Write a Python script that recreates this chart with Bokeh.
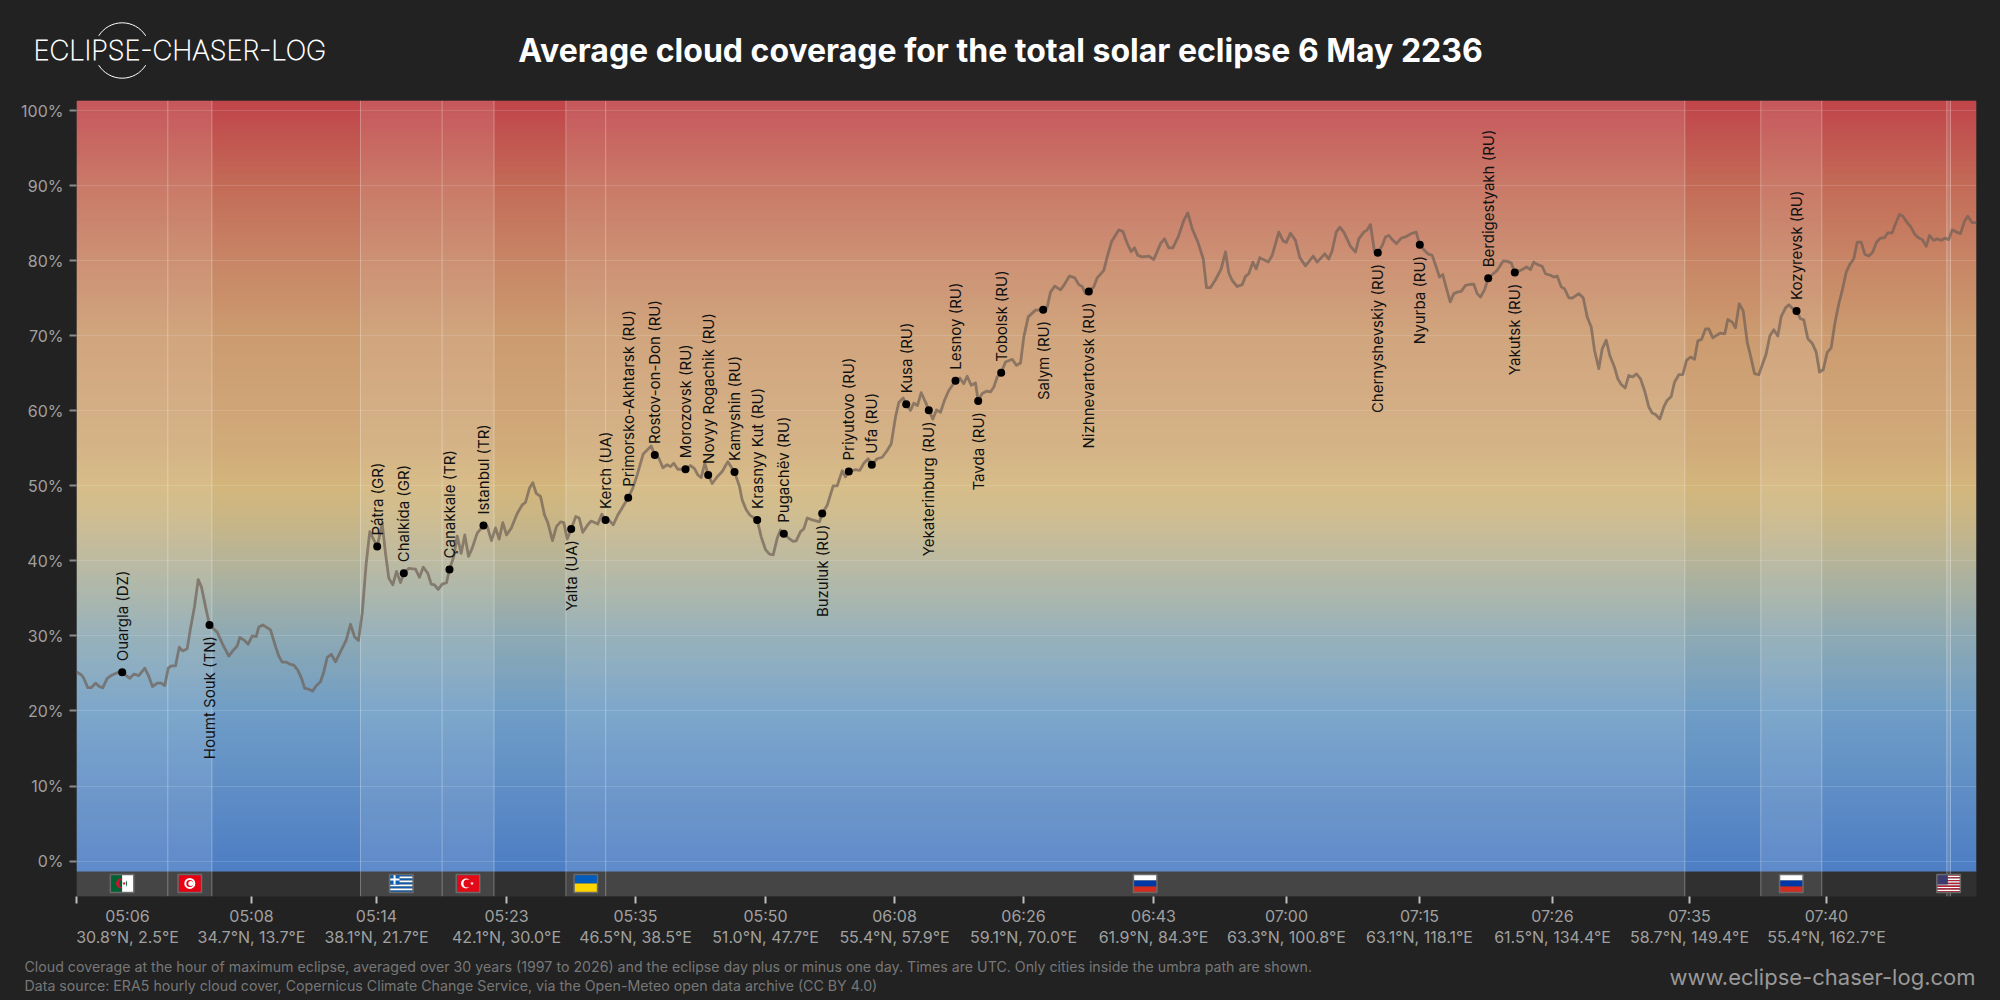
import numpy as np
from bokeh.core.properties import value
from bokeh.embed import file_html
from bokeh.layouts import column
from bokeh.models import ColumnDataSource, FixedTicker, LinearAxis, Range1d
from bokeh.plotting import figure
from bokeh.resources import INLINE

# ---- data -----------------------------------------------------------------
path_pos = [
    0,5,7.3,11.3,14.7,19,23,26.3,30.7,35.7,41.7,45.7,53.3,57.3,62.3,68.3,72.3,76,80.7,84.7,88.3,91.7,94.7,99,
    102.7,106.3,110.7,114,118,121.7,125,129,133,140.7,145.7,152.3,156.3,160.7,163.3,168,171.7,175.7,179.7,182.3,
    186.3,190.7,194,199,202.3,205.7,210,214,217.3,221.3,225,228.3,232.3,236,240,244,247.3,250.7,254.7,259,264,
    269.7,274,278,282,285.7,289.7,
    293.3,297.3,300.7,305.7,309,312.3,316.3,320,324,327.3,332.3,339,343,346.7,351.3,354.7,358,361.7,365.7,370,373,
    377.3,380.7,384.7,388.3,392,395.7,400.7,407,410.7,415,419,422.7,426.3,430,434.7,440.7,445.7,449,453,456.3,
    459.7,464,468,471.3,476,480,484,487.3,490.7,494.7,499.3,502.7,506.3,511.3,514.7,521.3,525.3,529,532.3,536.7,
    541.3,545,551.7,556.3,560.7,566.7,574.7,578.3,582.3,586.3,590.7,594,597.3,601.3,609,614,618,621.3,624.7,628.3,
    631.7,635.7,640.7,645.7,651.3,658,663,665.7,669.7,673.3,680.7,684.7,689,693,696.7,700.7,704,707.3,712.3,716.7,
    719.7,724,727.3,730.7,735.7,743,745.7,
    750.7,756.7,760.7,765.7,769,772.3,779,783.3,787.3,791.7,795.3,800.7,805.7,810.7,814.7,819,822.3,826.7,829.7,
    834,837.3,841,844.7,849,852.3,856.3,860,864,868,872.3,879,883.3,887.3,890.7,894.7,899,901.7,905.7,910,914,917.3,
    920.7,924.7,929,935.7,940,944,947.3,951.7,959,966.7,970.7,974,978.3,984,987.3,993,998.3,1002.3,1005.7,1009,
    1012.3,1017.3,1020.7,1027.3,1030.7,1035,1042.3,1046.3,1050.7,1054.7,1058,1061.3,1065.7,1072.3,1077.3,1084,1088,
    1092.3,1096.3,1101.7,1107.3,1111.3,1115.7,1121.3,1126.7,1130,1134,1139,1144.7,1149,1152.3,1155.7,1160.7,1165.7,
    1169,1172.3,1176.3,1179.7,1183.3,1187.3,1191.7,1195.7,1202.3,1206.7,1209.7,1214,1219,1223.3,
    1229,1236.7,1240.7,1248.3,1252.3,1255.7,1259.7,1263.3,1267.3,1274,1279,1282.3,1287.3,1290.7,1294,1298,1301.3,
    1305.7,1309,1312.3,1315.7,1320,1324.7,1329,1334.7,1339.7,1343.3,1347.3,1351.3,1355.7,1359.7,1363,1366.3,1370,
    1373.7,1377.3,1380.7,1384.7,1389,1394,1397.3,1400.7,1404,1408,1411.7,1416.7,1420.7,1426.7,1430.7,1434.7,1438.3,
    1445.7,1450,1454,1457.3,1460.7,1465.7,1469,1474,1477.3,1480.7,1484.7,1488,1492.3,1495.7,1502.3,1506.7,1510.7,
    1514.7,1518,1522.3,1525.7,
    1529.7,1533.3,1538,1541.3,1544.7,1548.7,1552.3,1556.3,1560,1564,1568,1572.3,1575.7,1579,1583.3,1587.3,1590.7,
    1594.7,1598,1602.3,1606.3,1610,1614,1618,1621.3,1625,1629,1632.3,1636.3,1640.7,1644,1648.3,1651.3,1655.7,1659,
    1662.7,1666.7,1670.7,1674,1678,1682.3,1689.7,1693.3,1697.3,1701.3,1704.7,1709,1712.3,1716.3,1720,1724,1727.3,
    1731.3,1735.7,1739.7,1743,1746.7,1750.7,1754.7,1758.3,1762.3,1765.7,1769.7,1773.3,1777.3,1780.7,1784.7,1788.3,
    1792.3,1796.3,1800,1804,1808,1811.3,1815.7,1819,1823,1826.3,1830.7,1834,1838.3,1842.3,1845.7,1849.7,1853,1857.3,
    1860.7,1865,1868.3,1872.3,1875.7,1880,1884,1888,1891.3,1895.7,1900,
]
cloud_cover = [
    25.2,24.8,24.35,23.1,23.1,23.7,23.25,23.1,24.35,24.8,25.15,25.15,24.35,24.9,24.7,25.7,24.6,23.25,23.7,23.7,23.4,25.7,26,26,
    28.5,28,28.3,31,33.9,37.5,36.5,33.9,31.45,30.5,29,27.3,28,28.65,29.8,29.4,28.9,30,29.9,31.2,
    31.45,31.1,30.8,28.6,27.3,26.5,26.5,26.2,26.1,25.45,24.35,23,22.9,22.65,23.4,23.9,25.2,27.15,27.55,26.55,27.9,
    29.45,31.55,29.9,29.4,33,39.65,
    43.9,42.8,41.9,45,41,37.7,36.8,38.6,37.1,38.35,39,38.9,37.8,39.15,38.35,36.9,36.8,36.2,36.9,37.1,38.85,
    40.6,43.3,41,43.45,40.6,41.7,43.7,44.7,44.6,42.7,44.4,42.9,45.1,43.45,44.35,46.3,47.45,47.8,49.7,50.4,
    49,48.6,46.1,45.1,42.7,44.6,45.2,45.1,42.9,44.25,45.9,45.7,43.8,44.8,45.3,44.9,46.2,45.45,45.45,44.8,
    46.1,46.9,48.4,49.7,51.45,54.25,55.3,54.1,53.7,52.4,52.8,52.55,53,52.2,52.2,52.7,52.3,51.45,51.1,53,
    51.45,50.3,51.2,51.9,53.2,51.85,49.9,48.1,46.8,46.1,45.45,43.2,41.5,40.9,40.8,43,44.1,43.6,43,42.6,
    42.65,43.9,44.25,45.7,45.45,45.2,46.3,
    47.4,50,50,52,51.2,51.9,52.15,52.05,53,53.6,52.8,53.6,53.8,54.7,55.6,59.15,61.1,61.7,60.85,
    60.05,61,60.7,62.4,61.15,60.05,58.9,60.1,59.8,61.4,62.7,64,64.35,63.6,64.6,63.4,63.7,61.3,62.3,62.6,62.5,63.15,
    64.5,65.05,66.5,66.85,66.05,66.35,69.8,72.5,73.4,73.45,73.8,75.8,76.6,76.1,76.7,77.95,77.7,76.8,76.55,75.6,
    75.9,76.5,77.7,78.7,80.5,82.5,84.1,83.9,82.3,81.2,81.7,80.7,80.5,80.6,80.15,82.25,82.9,
    81.7,81.7,83.15,85.35,86.35,84.25,82.5,80.25,76.4,76.4,77.45,78.9,81.15,78.35,77.35,76.55,76.8,
    77.9,78.25,79.8,78.9,80.4,80.1,79.8,80.7,83.8,82.6,82.4,83.65,82.7,80.4,
    79.3,80.6,79.8,80.9,80.2,81.35,83.8,84.45,83.8,81.9,81.15,82.9,83.8,84.1,84.8,81.15,81.05,
    82,83.15,83.35,82.8,82.25,83,83.15,83.6,83.8,82.1,81.45,80.9,80.7,79.15,77.8,78.15,76.25,
    74.5,75.6,75.8,75.9,76.7,76.85,76.85,75.6,75.15,76.1,77.65,78.25,78.7,79.95,79.9,79.7,78.4,
    78.8,79.15,78.8,79.8,79.5,79.25,78.25,78.05,77.8,77.95,76.5,76.25,75.05,75,75.6,75.05,72.5,
    71.15,68.05,65.6,68.25,
    69.4,67.35,65.8,64.25,63.5,63.05,64.7,64.5,64.9,64.25,62.7,60.5,59.7,59.5,58.9,60.5,61.4,
    61.9,63.8,64.8,64.8,66.7,67.15,66.85,69.3,69.5,70.9,70.9,69.7,70.1,70.35,70.25,72.15,71.8,71.05,
    74.25,73.3,69.15,67.35,64.95,64.8,67.6,69.95,70.8,69.95,72.55,73.7,74.1,73.6,73.3,72.25,72.1,
    69.6,69,67.8,65.15,65.45,67.75,68.4,71.6,74.25,76,78.45,79.5,80.25,82.45,82.45,80.85,
    80.6,81.15,82.45,83,83.05,83.7,83.7,84.9,86.15,85.95,85.05,84.55,83.5,83,82.8,81.9,83.35,82.7,
    82.9,82.7,83,82.8,84.1,83.8,83.6,85.25,85.9,85.05,85.05,
]
assert len(path_pos) == len(cloud_cover), (len(path_pos), len(cloud_cover))

cities_up = ["Ouargla (DZ)", "Pátra (GR)", "Chalkída (GR)", "Çanakkale (TR)", "Istanbul (TR)", "Kerch (UA)",
             "Primorsko-Akhtarsk (RU)", "Rostov-on-Don (RU)", "Morozovsk (RU)", "Novyy Rogachik (RU)", "Kamyshin (RU)",
             "Krasnyy Kut (RU)", "Pugachëv (RU)", "Priyutovo (RU)", "Ufa (RU)", "Kusa (RU)", "Lesnoy (RU)",
             "Tobolsk (RU)", "Berdigestyakh (RU)", "Kozyrevsk (RU)"]
cities_up_pos = [45.7, 300.7, 327.3, 373, 407, 529, 551.7, 578.3, 609, 631.7, 658, 680.7, 707.3, 772.3, 795.3,
                 829.7, 879, 924.7, 1411.7, 1720]
cities_up_val = [25.15, 41.9, 38.35, 38.85, 44.7, 45.45, 48.4, 54.1, 52.2, 51.45, 51.85, 45.45, 43.6, 51.9, 52.8,
                 60.85, 64, 65.05, 77.65, 73.3]

cities_down = ["Houmt Souk (TN)", "Yalta (UA)", "Buzuluk (RU)", "Yekaterinburg (RU)", "Tavda (RU)", "Salym (RU)",
               "Nizhnevartovsk (RU)", "Chernyshevskiy (RU)", "Nyurba (RU)", "Yakutsk (RU)"]
cities_down_pos = [133, 494.7, 745.7, 852.3, 901.7, 966.7, 1012.3, 1301.3, 1343.3, 1438.3]
cities_down_val = [31.45, 44.25, 46.3, 60.05, 61.3, 73.45, 75.9, 81.05, 82.1, 78.4]

tick_pos = [0, 175, 300, 430, 559, 689, 818, 947, 1077, 1210, 1343, 1476, 1613, 1750]
label_pos = [51, 175, 300, 430, 559, 689, 818, 947, 1077, 1210, 1343, 1476, 1613, 1750]
tick_time = ["05:06", "05:08", "05:14", "05:23", "05:35", "05:50", "06:08", "06:26", "06:43", "07:00", "07:15", "07:26", "07:35", "07:40"]
tick_coord = ["30.8°N, 2.5°E", "34.7°N, 13.7°E", "38.1°N, 21.7°E", "42.1°N, 30.0°E", "46.5°N, 38.5°E", "51.0°N, 47.7°E",
              "55.4°N, 57.9°E", "59.1°N, 70.0°E", "61.9°N, 84.3°E", "63.3°N, 100.8°E", "63.1°N, 118.1°E",
              "61.5°N, 134.4°E", "58.7°N, 149.4°E", "55.4°N, 162.7°E"]

zone_edges = [91.3, 135.4, 284, 365.6, 417.5, 489.4, 529.2, 1608.3, 1684.3, 1745.3, 1870.3, 1874]
zone_start = [0, 284, 489.4, 1684.3, 1870.3]
zone_end = [135.4, 417.5, 1608.3, 1745.3, 1874]
flag_center = {"dz": 45.6, "tn": 113.3, "gr": 324.8, "tr": 391.5, "ua": 509.3, "ru": 1068.7, "ru2": 1714.8, "us": 1872.1}

grad_value = [-1.39, 0, 10, 20, 30, 40, 45, 50, 55, 60, 70, 80, 90, 100, 101.33]
grad_rgb = [(78, 126, 196), (80, 128, 196), (96, 143, 198), (112, 158, 198), (142, 170, 180), (182, 180, 152),
            (200, 182, 136), (212, 182, 124), (209, 172, 122), (208, 166, 120), (204, 156, 112), (200, 134, 102),
            (196, 108, 88), (193, 74, 76), (192, 70, 74)]

# ---- layout constants --------------------------------------------------------
BG = "#222222"
W = 2000
TOP_H = 100
FRAME_H = 796
BOTTOM_H = 56
FOOT_H = 1000 - TOP_H - FRAME_H - BOTTOM_H
PX_PER_PCT = 7.506
Y_TOP = 101.33
Y_BOTTOM = Y_TOP - FRAME_H / PX_PER_PCT
FONT = "Inter"


def strip(height):
    s = figure(width=W, height=height, output_backend="svg", toolbar_location=None,
               x_range=Range1d(0, W), y_range=Range1d(0, height), min_border=0, frame_align=False,
               background_fill_color=BG, border_fill_color=BG, outline_line_color=None,
               styles={"background-color": BG})
    s.axis.visible = False
    s.grid.visible = False
    return s


# ---- header --------------------------------------------------------------------
head = strip(TOP_H)
head.text(x=[1000], y=[50], text=["Average cloud coverage for the total solar eclipse 6 May 2236"],
          text_align="center", text_baseline="middle", text_font=value(FONT), text_font_style="bold",
          text_font_size="32px", text_color="#ffffff")
head.text(x=[33], y=[50], text=["ECLIPSE-CHASER-LOG"], text_align="left", text_baseline="middle",
          text_font=value("Inter Thin"), text_font_size="27.3px", text_color="#ffffff")
head.arc(x=[121.7, 121.7], y=[50, 50], radius=27.7, start_angle=[np.radians(32), np.radians(212)],
         end_angle=[np.radians(148), np.radians(328)], line_color="#ffffff", line_width=1)

# ---- chart ---------------------------------------------------------------------
p = figure(width=W, height=FRAME_H + BOTTOM_H, output_backend="svg", toolbar_location=None,
           x_range=Range1d(0, 1900), y_range=Range1d(Y_BOTTOM, Y_TOP), frame_align=False,
           min_border_left=76, min_border_right=2000 - 1976, min_border_top=0, min_border_bottom=BOTTOM_H,
           background_fill_color="#303030", border_fill_color=BG, outline_line_color=None,
           styles={"background-color": BG})

# gradient
rows = 240
vals = np.linspace(grad_value[0], grad_value[-1], rows)
rgb = np.array(grad_rgb, dtype=float)
channels = [np.interp(vals, grad_value, rgb[:, i]) for i in range(3)]
img = np.zeros((rows, 1), dtype=np.uint32)
view = img.view(dtype=np.uint8).reshape((rows, 1, 4))
for i in range(3):
    view[:, 0, i] = channels[i].astype(np.uint8)
view[:, 0, 3] = 255
p.image_rgba(image=[img], x=0, y=grad_value[0], dw=1900, dh=grad_value[-1] - grad_value[0], level="image")

# country strips
p.quad(left=zone_start, right=zone_end, top=Y_TOP, bottom=Y_BOTTOM, fill_color="#ffffff", fill_alpha=0.1,
       line_color=None, level="image")
p.segment(x0=zone_edges, x1=zone_edges, y0=Y_BOTTOM, y1=Y_TOP, line_color="#ffffff", line_alpha=0.3, line_width=1,
          level="image")

# flags
FW, FH = 23.5, 18
FTOP = -1.78
FBOT = FTOP - FH / PX_PER_PCT
FMID = (FTOP + FBOT) / 2


def stripes(cx, cols):
    """Equal horizontal stripes for a flag, top to bottom."""
    n = len(cols)
    step = (FTOP - FBOT) / n
    p.quad(left=cx - FW / 2, right=cx + FW / 2, top=[FTOP - i * step for i in range(n)],
           bottom=[FTOP - (i + 1) * step for i in range(n)], fill_color=cols, line_color=None)


def canton(cx, w, h, col):
    p.quad(left=[cx - FW / 2], right=[cx - FW / 2 + w], top=[FTOP], bottom=[FTOP - h / PX_PER_PCT],
           fill_color=col, line_color=None)


def disc(cx, dx, size, col, marker="circle"):
    p.scatter([cx + dx], [FMID], size=size, marker=marker, fill_color=col, line_color=None)


def outline(cx):
    p.quad(left=[cx - FW / 2], right=[cx + FW / 2], top=[FTOP], bottom=[FBOT],
           fill_color=None, line_color="#6a6a6a", line_width=1.5)


# Algeria
cx = flag_center["dz"]
stripes(cx, ["#ffffff"])
p.quad(left=[cx - FW / 2], right=[cx], top=[FTOP], bottom=[FBOT], fill_color="#006233", line_color=None)
disc(cx, -1, 10, "#d21034")
disc(cx, 1, 8, "#006233")
p.quad(left=[cx], right=[cx + 4], top=[FMID + 5 / PX_PER_PCT], bottom=[FMID - 5 / PX_PER_PCT], fill_color="#ffffff", line_color=None)
disc(cx, 2, 4, "#d21034", "star")
outline(cx)
# Tunisia
cx = flag_center["tn"]
stripes(cx, ["#e70013"])
disc(cx, 0, 11, "#ffffff")
disc(cx, 0, 7, "#e70013")
disc(cx, 1, 5, "#ffffff")
outline(cx)
# Greece
cx = flag_center["gr"]
stripes(cx, ["#0d5eaf", "#ffffff"] * 4 + ["#0d5eaf"])
canton(cx, 10, 10, "#0d5eaf")
p.quad(left=[cx - FW / 2 + 4], right=[cx - FW / 2 + 6], top=[FTOP], bottom=[FTOP - 10 / PX_PER_PCT], fill_color="#ffffff", line_color=None)
p.quad(left=[cx - FW / 2], right=[cx - FW / 2 + 10], top=[FTOP - 4 / PX_PER_PCT], bottom=[FTOP - 6 / PX_PER_PCT], fill_color="#ffffff", line_color=None)
outline(cx)
# Turkey
cx = flag_center["tr"]
stripes(cx, ["#e30a17"])
disc(cx, -2, 10, "#ffffff")
disc(cx, -0.5, 8, "#e30a17")
disc(cx, 4, 4, "#ffffff", "star")
outline(cx)
# Ukraine
cx = flag_center["ua"]
stripes(cx, ["#005bbb", "#ffd500"])
outline(cx)
# Russia (twice)
for key in ("ru", "ru2"):
    cx = flag_center[key]
    stripes(cx, ["#ffffff", "#0039a6", "#d52b1e"])
    outline(cx)
# USA
cx = flag_center["us"]
stripes(cx, ["#b22234", "#ffffff"] * 6 + ["#b22234"])
canton(cx, 11, 10, "#3c3b6e")
outline(cx)

# data
p.line(path_pos, cloud_cover, line_color="#6f5f55", line_alpha=0.7, line_width=2.8, line_join="round")

up = ColumnDataSource(dict(x=cities_up_pos, y=cities_up_val, t=cities_up))
down = ColumnDataSource(dict(x=cities_down_pos, y=cities_down_val, t=cities_down))
for src, align, off in ((up, "left", -11), (down, "right", 11)):
    p.scatter("x", "y", source=src, size=8, fill_color="#000000", line_color=None)
    p.text("x", "y", text="t", source=src, angle=np.pi / 2, text_align=align, text_baseline="middle",
           y_offset=off, x_offset=0, text_font=value(FONT), text_font_size="15px", text_color="#111111")

# axes
p.xgrid.visible = False
p.ygrid.ticker = FixedTicker(ticks=list(range(0, 101, 10)))
p.ygrid.grid_line_color = "#ffffff"
p.ygrid.grid_line_alpha = 0.14
p.ygrid.grid_line_width = 1

p.yaxis.ticker = FixedTicker(ticks=list(range(0, 101, 10)))
p.yaxis.major_label_overrides = {v: f"{v}%" for v in range(0, 101, 10)}
p.yaxis.axis_line_color = None
p.yaxis.minor_tick_line_color = None
p.yaxis.major_tick_in = 0
p.yaxis.major_tick_out = 7
p.yaxis.major_tick_line_color = "#8a8a8a"
p.yaxis.major_tick_line_width = 2
p.yaxis.major_label_text_color = "#a0a0a0"
p.yaxis.major_label_text_font = FONT
p.yaxis.major_label_text_font_size = "16px"
p.yaxis.major_label_standoff = 6

# tick marks only on the first bottom axis, labels on a second one just under it
tick_axis = p.xaxis[0]
tick_axis.ticker = FixedTicker(ticks=tick_pos)
tick_axis.major_label_overrides = {v: "" for v in tick_pos}
tick_axis.major_label_text_font_size = "1px"
tick_axis.major_label_standoff = 0
tick_axis.axis_line_color = None
tick_axis.minor_tick_line_color = None
tick_axis.major_tick_in = 0
tick_axis.major_tick_out = 7
tick_axis.major_tick_line_color = "#bdbdbd"
tick_axis.major_tick_line_width = 2

label_axis = LinearAxis(ticker=FixedTicker(ticks=label_pos),
                        major_label_overrides={pos: f"{tm}\n{co}" for pos, tm, co in zip(label_pos, tick_time, tick_coord)},
                        axis_line_color=None, minor_tick_line_color=None, major_tick_line_color=None,
                        major_tick_in=0, major_tick_out=0, major_label_standoff=2,
                        major_label_text_color="#a0a0a0", major_label_text_font=FONT,
                        major_label_text_font_size="16px", major_label_text_line_height=1.09)
p.add_layout(label_axis, "below")

# ---- footer --------------------------------------------------------------------
foot = strip(FOOT_H)
note_1 = "Cloud coverage at the hour of maximum eclipse, averaged over 30 years (1997 to 2026) and the eclipse day plus or minus one day. Times are UTC. Only cities inside the umbra path are shown."
note_2 = "Data source: ERA5 hourly cloud cover, Copernicus Climate Change Service, via the Open-Meteo open data archive (CC BY 4.0)"
foot.text(x=[24, 24], y=[34, 15], text=[note_1, note_2], text_align="left", text_baseline="middle",
          text_font=value(FONT), text_font_size="14.2px", text_color="#777777")
foot.text(x=[1975], y=[24], text=["www.eclipse-chaser-log.com"], text_align="right", text_baseline="middle",
          text_font=value(FONT), text_font_size="22px", text_color="#999999")

page = column(head, p, foot, spacing=0, styles={"background-color": BG})
open("out.html", "w").write(file_html(page, INLINE))
